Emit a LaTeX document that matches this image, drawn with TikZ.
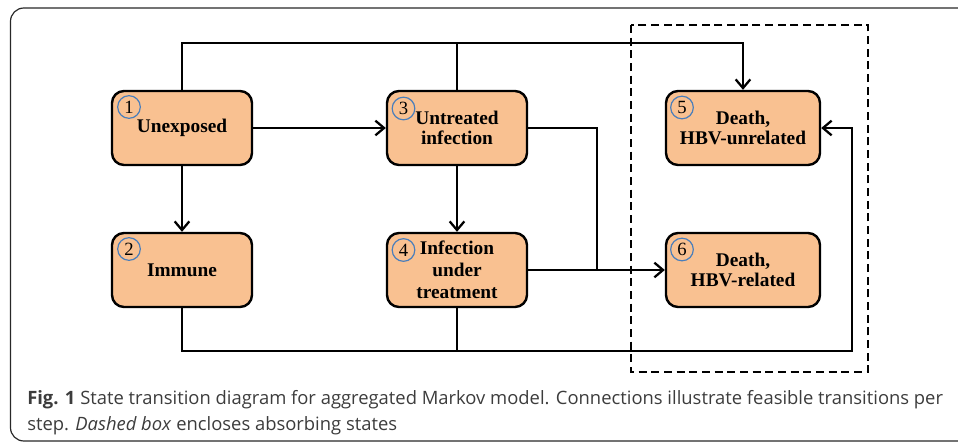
\documentclass[tikz,border=0pt]{standalone}
\usepackage{fontspec}
\setmainfont{Liberation Serif}
\newfontfamily\capfont{Open Sans}
\usetikzlibrary{arrows.meta}
\definecolor{boxfill}{RGB}{249,193,145}
\definecolor{circblue}{RGB}{74,126,187}
\definecolor{capgray}{RGB}{60,60,60}
\definecolor{framegray}{RGB}{40,40,40}
\tikzset{
  state/.style={draw=black, line width=1.8pt, fill=boxfill, rounded corners=9pt,
    minimum width=105pt, minimum height=55.5pt, align=center, inner sep=0pt,
    font=\fontsize{14.5}{15.5}\selectfont\bfseries},
  wide/.style={minimum width=115.5pt},
  num/.style={draw=circblue, line width=0.9pt, circle, minimum size=17pt, inner sep=0pt,
    font=\fontsize{14}{14}\selectfont},
  conn/.style={line width=1.7pt, draw=black},
  arr/.style={conn, -{Straight Barb[length=6.5pt,width=11pt,line width=1.7pt]}},
  captxt/.style={anchor=base west, inner sep=0pt, text=capgray,
    font=\capfont\fontsize{13.8}{15}\selectfont}
}
\begin{document}
\begin{tikzpicture}[x=0.75pt,y=-0.75pt]
\useasboundingbox (0,0) rectangle (958,443);
\begin{scope}
\clip (0,0) rectangle (958,443);
\draw[framegray, line width=0.9pt, rounded corners=10pt] (10.5,8) rectangle (990,441);
\end{scope}
% absorbing states box
\draw[line width=1.1pt, dash pattern=on 6pt off 3.5pt] (631,25) rectangle (868,372);
% states
\node[state] (b1) at (182,128) {Unexposed};
\node[state] (b2) at (182,270) {Immune};
\node[state] (b3) at (457,128) {Untreated\\infection};
\node[state, font=\fontsize{14.5}{16.5}\selectfont\bfseries] (b4) at (457,270) {Infection\\under\\treatment};
\node[state, wide] (b5) at (743,128) {Death,\\HBV-unrelated};
\node[state, wide] (b6) at (743,270) {Death,\\HBV-related};
% numbers
\node[num] (n1) at (129,107) {1};
\node[num] (n2) at (129,249) {2};
\node[num] (n3) at (403.5,108.5) {3};
\node[num] (n4) at (403.5,250) {4};
\node[num] (n5) at (682,107.5) {5};
\node[num] (n6) at (682,249.5) {6};
% connectors
\coordinate (top) at (182,43);
\coordinate (bot) at (852,351);
\coordinate (jn) at (597,270);
\draw[arr] (b1.north) -- (top) -| (b5.north);
\draw[conn] (b3.north) -- (b3.north |- top);
\draw[arr] (b1.east) -- (b3.west);
\draw[arr] (b1.south) -- (b2.north);
\draw[arr] (b3.south) -- (b4.north);
\draw[conn] (b3.east) -| (jn);
\draw[arr] (b4.east) -- (b6.west);
\draw[arr] (b2.south) |- (bot) |- (b5.east);
\draw[conn] (b4.south) -- (b4.south |- bot);
% caption
\node[captxt] (cap1) at (27,404) {\textbf{Fig. 1} State transition diagram for aggregated Markov model. Connections illustrate feasible transitions per};
\node[captxt] (cap2) at (27,430) {step. \textit{Dashed box} encloses absorbing states};
\end{tikzpicture}
\end{document}
